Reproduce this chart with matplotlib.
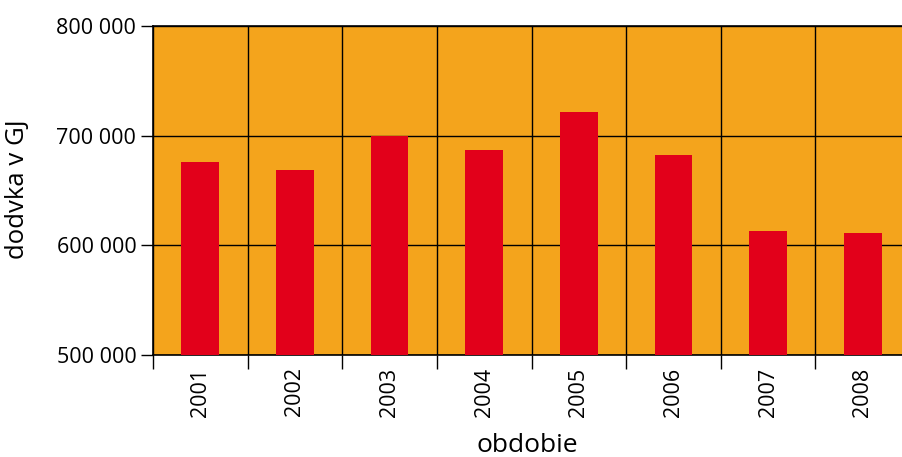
import numpy as np
import matplotlib.pyplot as plt
from matplotlib.ticker import FuncFormatter

roky = ['2001', '2002', '2003', '2004', '2005', '2006', '2007', '2008']
dodavka = [676000, 669000, 700000, 687000, 722000, 682000, 613000, 611000]

plt.rcParams['font.family'] = ['Open Sans', 'DejaVu Sans']

fig = plt.figure(figsize=(9.02, 4.57), dpi=100)
ax = fig.add_axes([153/902, 102/457, 757/902, 329/457])

x = np.arange(len(roky))
ax.set_facecolor('#F4A41C')
ax.bar(x, [v - 500000 for v in dodavka], bottom=500000, width=0.4,
       color='#E2001A', zorder=3)

ax.set_xlim(-0.5, len(roky) - 0.5)
ax.set_ylim(500000, 800000)

# y osa
ax.set_yticks([500000, 600000, 700000, 800000])
ax.yaxis.set_major_formatter(FuncFormatter(lambda v, p: f'{int(v):,}'.replace(',', ' ')))
ax.tick_params(axis='y', length=9, width=1, labelsize=15.5, pad=3)
ax.grid(axis='y', color='black', linewidth=1, zorder=1)

# x osa - popisky v stredoch, ciary na hraniciach
ax.set_xticks(x)
ax.set_xticklabels(roky, rotation=90)
ax.tick_params(axis='x', which='major', length=0, labelsize=15.5, pad=9)
ax.set_xticks(np.arange(-0.5, len(roky)), minor=True)
ax.tick_params(axis='x', which='minor', length=10, width=1)
ax.grid(axis='x', which='minor', color='black', linewidth=1, zorder=1)

for s in ['left', 'bottom', 'top']:
    ax.spines[s].set_linewidth(1.2)
ax.spines['right'].set_visible(False)

ax.set_ylabel('dodvka v GJ', fontsize=18.5)
ax.yaxis.set_label_coords(-0.163, 0.505)
ax.set_xlabel('obdobie', fontsize=19)
ax.xaxis.set_label_coords(0.4947, -0.238)

fig.savefig('out.png', dpi=100)
